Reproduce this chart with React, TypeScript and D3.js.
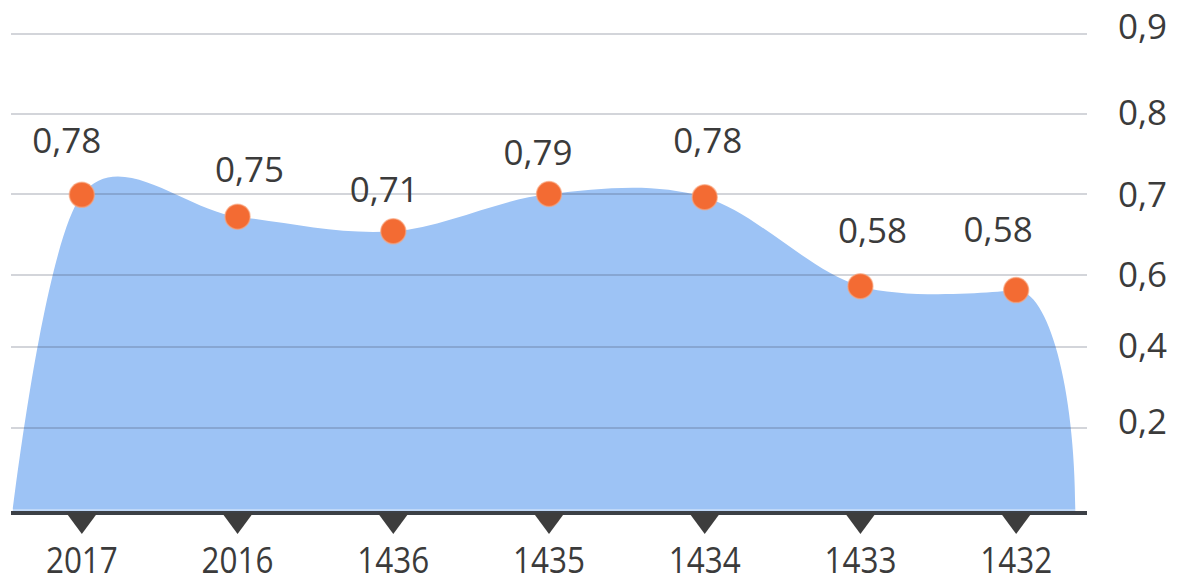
import React from "react";
import * as d3 from "d3";

// ---- data ----
const categories = ["2017", "2016", "1436", "1435", "1434", "1433", "1432"];
// values printed above each point
const valueLabels = ["0,78", "0,75", "0,71", "0,79", "0,78", "0,58", "0,58"];
// vertical position of each point, read against the right-hand axis
const plotted = [0.699, 0.672, 0.654, 0.7, 0.696, 0.569, 0.558];
// right-hand axis ticks
const tickValues = [0.9, 0.8, 0.7, 0.6, 0.4, 0.2];
const tickLabels = ["0,9", "0,8", "0,7", "0,6", "0,4", "0,2"];

// layout nudges only
const labelNudge: [number, number][] = [
  [-15, -42], [12, -35], [-9, -29], [-11, -29], [3, -44], [12, -43], [-18, -48],
];
const tickNudge = [-8, -1.5, 0.5, -0.5, -1.5, -6.5];

const W = 1184;
const H = 576;

export default function App() {
  const x = d3.scalePoint<string>().domain(categories).range([11, 1087]).padding(0.455);
  const step = x.step();
  // uneven axis as drawn in the picture
  const y = d3
    .scaleLinear()
    .domain([0, 0.2, 0.4, 0.6, 0.7, 0.8, 0.9])
    .range([512, 428, 347, 275, 194, 114, 34]);

  const pts = categories.map((c, i) => ({ x: x(c) as number, v: plotted[i] }));
  const left = { x: (x(categories[0]) as number) - 0.445 * step, v: 0 };
  const right = { x: (x(categories[categories.length - 1]) as number) + 0.38 * step, v: 0 };

  const topLine = d3
    .line<{ x: number; v: number }>()
    .x((d) => d.x)
    .y((d) => y(d.v))
    .curve(d3.curveCardinal.tension(0));
  const last = pts[pts.length - 1];
  const lx = last.x;
  const ly = y(last.v);
  const by = y(0);
  const K = 0.5523;
  const areaD =
    (topLine([left, ...pts]) as string) +
    `C${lx + K * (right.x - lx)},${ly} ${right.x},${by - K * (by - ly)} ${right.x},${by}Z`;

  const [x0, x1] = x.range();
  const font = "'Open Sans', 'Noto Sans', sans-serif";
  const textColor = "#3b3b3b";

  return (
    <svg
      width={W}
      height={H}
      style={{ position: "fixed", left: 0, top: 0, background: "#fff" }}
      fontFamily={font}
    >
      <path d={areaD} fill="#9dc3f5" />
      {tickValues.map((t) => (
        <line
          key={t}
          x1={x0}
          x2={x1}
          y1={y(t)}
          y2={y(t)}
          stroke="rgba(60,70,90,0.3)"
          strokeWidth={1.5}
        />
      ))}
      {tickValues.map((t, i) => (
        <text
          key={"l" + t}
          x={1118}
          y={y(t) + tickNudge[i]}
          dy="0.36em"
          fontSize={35}
          fill={textColor}
        >
          {tickLabels[i]}
        </text>
      ))}
      <line x1={x0} x2={x1} y1={by - 2} y2={by - 2} stroke="#ffffff" strokeOpacity={0.7} strokeWidth={1.2} />
      <line x1={x0} x2={x1} y1={by + 1} y2={by + 1} stroke="#3c4046" strokeWidth={4} />
      {categories.map((c) => {
        const cx = x(c) as number;
        const top = by + 1;
        return (
          <path
            key={"tri" + c}
            d={`M${cx - 15.5},${top} L${cx + 15.5},${top} L${cx},${top + 21} Z`}
            fill="#3d3d3d"
          />
        );
      })}
      {categories.map((c) => (
        <text
          key={"x" + c}
          transform={`translate(${x(c) as number},573) scale(0.85,1)`}
          textAnchor="middle"
          fontSize={37}
          fill={textColor}
        >
          {c}
        </text>
      ))}
      {pts.map((p, i) => (
        <circle
          key={"c" + i}
          cx={p.x}
          cy={y(p.v)}
          r={12.5}
          fill="#f36b33"
          stroke="#f8a47c"
          strokeOpacity={0.6}
          strokeWidth={1.5}
        />
      ))}
      {pts.map((p, i) => (
        <text
          key={"v" + i}
          x={p.x + labelNudge[i][0]}
          y={y(p.v) + labelNudge[i][1]}
          textAnchor="middle"
          fontSize={35}
          fill={textColor}
        >
          {valueLabels[i]}
        </text>
      ))}
    </svg>
  );
}
